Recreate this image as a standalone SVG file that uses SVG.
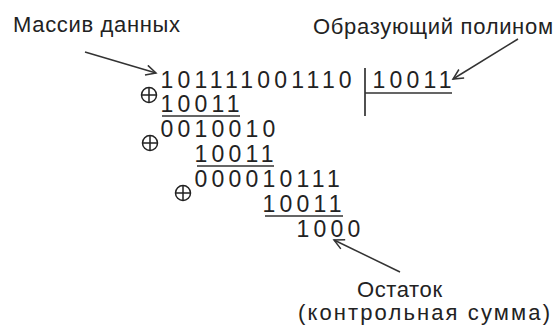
<svg xmlns="http://www.w3.org/2000/svg" width="555" height="327" viewBox="0 0 555 327">
<defs>
<style>
.lbl{font-family:"Liberation Sans",Arial,sans-serif;font-size:22px;fill:#222}
.dig{font-family:"Liberation Sans",Arial,sans-serif;font-size:23px;fill:#222;letter-spacing:4.2px}
.ln{stroke:#333;stroke-width:1.7;fill:none}
.arr{stroke:#333;stroke-width:1.5;fill:none;marker-end:url(#ah)}
.xor{stroke:#222;stroke-width:1.5;fill:none}
</style>
<marker id="ah" markerWidth="14" markerHeight="12" refX="11" refY="6" orient="auto" markerUnits="userSpaceOnUse">
<path d="M1,1 L11,6 L1,11" stroke="#333" stroke-width="1.5" fill="none"/>
</marker>
<g id="xorsym"><circle cx="0" cy="0" r="7.5"/><path d="M-7.5,0 H7.5 M0,-7.5 V7.5"/></g>
</defs>
<rect width="555" height="327" fill="#fff"/>
<g id="label-data"><text class="lbl" x="13" y="32" textLength="167" lengthAdjust="spacing">Массив данных</text></g>
<g id="label-poly"><text class="lbl" x="313" y="34" textLength="240" lengthAdjust="spacing">Образующий полином</text></g>
<g id="label-rem"><text class="lbl" x="357" y="297" textLength="85" lengthAdjust="spacing">Остаток</text><text class="lbl" x="298" y="320" textLength="252" lengthAdjust="spacing">(контрольная сумма)</text></g>
<g id="division">
<text class="dig" x="160.5" y="88">101111001110</text>
<text class="dig" x="372.5" y="88">10011</text>
<text class="dig" x="160.5" y="112">10011</text>
<text class="dig" x="160.5" y="137">0010010</text>
<text class="dig" x="194.5" y="162">10011</text>
<text class="dig" x="194.5" y="187">000010111</text>
<text class="dig" x="262.5" y="212">10011</text>
<text class="dig" x="296.5" y="237">1000</text>
<path class="ln" d="M365,68 V116 M365,93 H452 M162,116 H240 M197,166 H274 M265,216 H343"/>
<use href="#xorsym" class="xor" x="149" y="95"/>
<use href="#xorsym" class="xor" x="150" y="143"/>
<use href="#xorsym" class="xor" x="183" y="193"/>
</g>
<g id="connectors">
<line class="arr" x1="85" y1="52" x2="156" y2="73"/>
<line class="arr" x1="518" y1="39" x2="453" y2="79"/>
<line class="arr" x1="400" y1="272" x2="334" y2="240"/>
</g>
</svg>
